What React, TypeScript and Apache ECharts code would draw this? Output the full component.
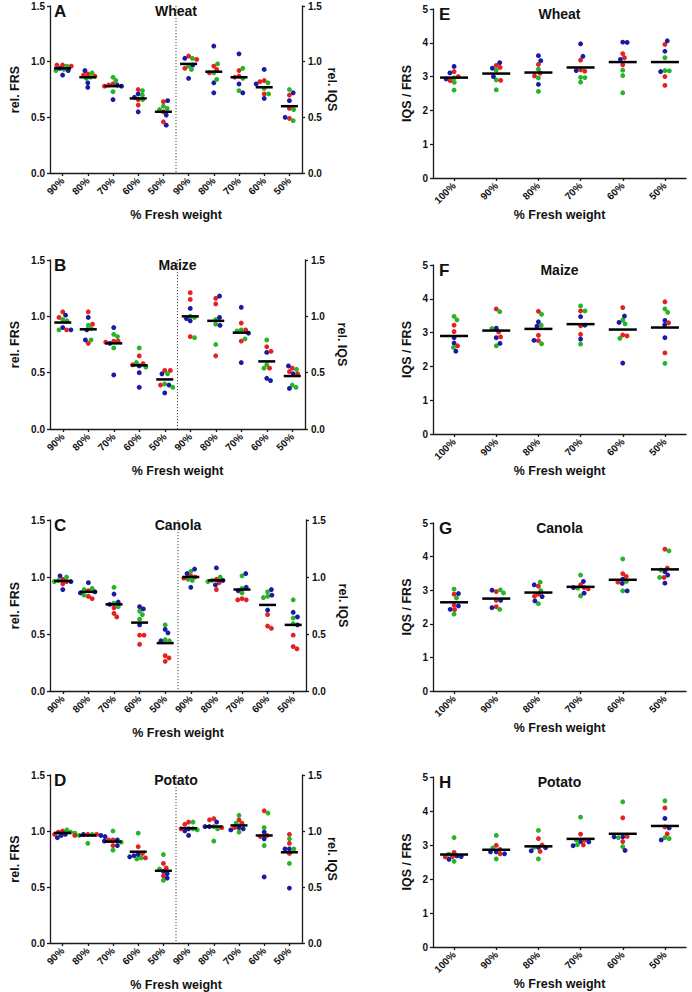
import React, { useEffect, useRef } from 'react';
import * as echarts from 'echarts';

// ---------- categories ----------
const relCategories = ['90%', '80%', '70%', '60%', '50%', '90%', '80%', '70%', '60%', '50%'];
const ratioCategories = ['100%', '90%', '80%', '70%', '60%', '50%'];

// ---------- Wheat (rel. FRS: first 5, rel. IQS: last 5) ----------
const wheatRelRed = [[0.97, 0.97, 0.96], [0.89, 0.88, 0.87], [0.80, 0.79, 0.78], [0.75, 0.66, 0.61], [0.64, 0.55, 0.46], [1.05, 1.02, 0.94], [0.96, 0.93, 0.90], [0.92, 0.87, 0.86], [0.83, 0.82, 0.71], [0.70, 0.58, 0.49]];
const wheatRelGreen = [[0.96, 0.93, 0.92], [0.90, 0.86, 0.85], [0.86, 0.83, 0.73], [0.74, 0.70, 0.66], [0.60, 0.58, 0.57], [1.03, 0.96, 0.93], [0.98, 0.90, 0.84], [0.94, 0.85, 0.74], [0.81, 0.76, 0.71], [0.75, 0.57, 0.47]];
const wheatRelBlue = [[0.94, 0.92, 0.88], [0.92, 0.81, 0.77], [0.79, 0.78, 0.66], [0.71, 0.68, 0.55], [0.65, 0.52, 0.43], [1.03, 0.97, 0.85], [1.14, 0.81, 0.72], [1.07, 0.80, 0.72], [0.93, 0.80, 0.67], [0.72, 0.65, 0.50]];
const wheatRelMean = [0.94, 0.86, 0.78, 0.67, 0.55, 0.98, 0.91, 0.86, 0.77, 0.60];

// ---------- Maize ----------
const maizeRelRed = [[1.04, 0.99, 0.88], [1.04, 0.93, 0.76], [0.78, 0.78, 0.77], [0.65, 0.58, 0.57], [0.52, 0.52, 0.39], [1.21, 1.15, 0.82], [1.16, 1.11, 0.65], [0.94, 0.88, 0.78], [0.73, 0.69, 0.54], [0.54, 0.51, 0.49]];
const maizeRelGreen = [[0.97, 0.96, 0.88], [0.92, 0.89, 0.79], [0.84, 0.82, 0.72], [0.72, 0.59, 0.55], [0.49, 0.40, 0.37], [1.00, 0.99, 0.81], [0.97, 0.93, 0.75], [0.88, 0.87, 0.80], [0.79, 0.57, 0.54], [0.53, 0.39, 0.37]];
const maizeRelBlue = [[1.01, 0.90, 0.88], [0.99, 0.88, 0.79], [0.90, 0.76, 0.48], [0.56, 0.50, 0.37], [0.49, 0.39, 0.32], [1.07, 0.98, 0.96], [1.18, 0.99, 0.92], [1.08, 0.85, 0.59], [0.68, 0.45, 0.43], [0.56, 0.49, 0.36]];
const maizeRelMean = [0.945, 0.885, 0.76, 0.565, 0.44, 1.0, 0.96, 0.855, 0.60, 0.47];

// ---------- Canola ----------
const canolaRelRed = [[0.98, 0.96, 0.94], [0.88, 0.83, 0.81], [0.73, 0.68, 0.65], [0.49, 0.49, 0.41], [0.31, 0.29, 0.26], [1.01, 1.00, 0.99], [0.98, 0.95, 0.89], [0.81, 0.80, 0.80], [0.67, 0.57, 0.55], [0.49, 0.39, 0.37]];
const canolaRelGreen = [[1.00, 0.97, 0.96], [0.90, 0.89, 0.84], [0.91, 0.77, 0.74], [0.70, 0.67, 0.63], [0.58, 0.45, 0.44], [1.05, 0.98, 0.97], [1.00, 0.97, 0.96], [1.01, 0.90, 0.86], [0.87, 0.83, 0.82], [0.80, 0.64, 0.59]];
const canolaRelBlue = [[1.01, 0.96, 0.89], [0.95, 0.87, 0.86], [0.85, 0.78, 0.76], [0.74, 0.72, 0.58], [0.54, 0.51, 0.44], [1.07, 1.03, 0.91], [1.08, 0.97, 0.93], [1.03, 0.91, 0.88], [0.89, 0.84, 0.71], [0.69, 0.65, 0.58]];
const canolaRelMean = [0.965, 0.87, 0.76, 0.60, 0.42, 1.0, 0.97, 0.89, 0.755, 0.58];

// ---------- Potato ----------
const potatoRelRed = [[1.00, 0.99, 0.97], [0.97, 0.97, 0.96], [0.92, 0.92, 0.87], [0.86, 0.80, 0.76], [0.71, 0.67, 0.60], [1.08, 1.06, 1.02], [1.11, 1.10, 1.03], [1.10, 1.07, 1.03], [1.18, 0.96, 0.95], [0.97, 0.89, 0.80]];
const potatoRelGreen = [[1.01, 0.99, 0.98], [0.97, 0.96, 0.89], [1.00, 0.90, 0.83], [0.98, 0.76, 0.75], [0.79, 0.66, 0.56], [1.08, 1.02, 1.01], [1.04, 1.02, 0.91], [1.14, 1.07, 0.99], [1.16, 1.03, 0.87], [0.93, 0.84, 0.71]];
const potatoRelBlue = [[0.97, 0.96, 0.94], [0.97, 0.96, 0.95], [0.92, 0.91, 0.87], [0.79, 0.78, 0.77], [0.64, 0.62, 0.58], [1.02, 1.00, 0.96], [1.08, 1.04, 1.04], [1.03, 1.02, 1.01], [0.99, 0.93, 0.59], [0.84, 0.84, 0.49]];
const potatoRelMean = [0.983, 0.96, 0.905, 0.815, 0.645, 1.025, 1.04, 1.05, 0.96, 0.81];

// ---------- IQS / FRS ratios ----------
const wheatRatioRed = [[3.15, 3.00, 2.88], [3.33, 3.27, 2.89], [3.36, 3.10, 3.02], [3.49, 3.20, 3.16], [3.68, 3.56, 3.35], [3.95, 3.00, 2.74]];
const wheatRatioGreen = [[2.96, 2.83, 2.60], [3.19, 2.90, 2.61], [3.22, 2.96, 2.56], [2.98, 2.97, 2.84], [3.19, 3.03, 2.52], [3.56, 3.18, 3.17]];
const wheatRatioBlue = [[3.30, 3.11, 2.93], [3.41, 3.25, 3.00], [3.62, 3.47, 2.77], [3.97, 3.60, 3.18], [4.02, 4.01, 3.51], [4.06, 3.75, 3.15]];
const wheatRatioMean = [2.97, 3.09, 3.12, 3.27, 3.43, 3.43];

const maizeRatioRed = [[3.22, 3.03, 2.61], [3.70, 3.02, 2.87], [3.63, 2.92, 2.76], [3.64, 3.20, 2.95], [3.74, 2.93, 2.90], [3.91, 3.29, 2.40]];
const maizeRatioGreen = [[3.48, 3.38, 2.56], [3.62, 3.12, 2.61], [3.54, 3.22, 2.67], [3.79, 3.64, 2.66], [3.37, 3.26, 2.83], [3.70, 3.60, 2.09]];
const maizeRatioBlue = [[2.85, 2.69, 2.45], [3.13, 2.85, 2.68], [3.32, 3.19, 2.77], [3.47, 3.22, 2.81], [3.49, 3.30, 2.10], [3.36, 3.23, 2.85]];
const maizeRatioMean = [2.90, 3.06, 3.11, 3.25, 3.09, 3.15];

const canolaRatioRed = [[2.88, 2.55, 2.42], [2.96, 2.70, 2.51], [3.12, 2.88, 2.82], [3.16, 3.08, 3.04], [3.49, 3.41, 3.24], [4.22, 3.66, 3.38]];
const canolaRatioGreen = [[3.03, 2.77, 2.29], [3.01, 2.92, 2.43], [3.24, 2.99, 2.60], [3.45, 3.06, 2.83], [3.93, 3.26, 2.98], [4.17, 3.60, 3.38]];
const canolaRatioBlue = [[2.90, 2.53, 2.43], [3.00, 2.70, 2.48], [3.16, 2.81, 2.68], [3.26, 3.08, 2.91], [3.33, 3.20, 2.98], [3.55, 3.45, 3.21]];
const canolaRatioMean = [2.64, 2.75, 2.93, 3.10, 3.31, 3.62];

const potatoRatioRed = [[2.78, 2.66, 2.65], [2.99, 2.87, 2.74], [3.19, 3.00, 2.81], [3.32, 3.14, 3.00], [3.80, 3.25, 3.10], [4.09, 3.53, 3.33]];
const potatoRatioGreen = [[3.22, 2.73, 2.52], [3.28, 2.91, 2.59], [3.43, 2.93, 2.59], [3.82, 3.14, 3.01], [4.27, 3.22, 2.95], [4.30, 3.22, 3.19]];
const potatoRatioBlue = [[2.68, 2.66, 2.58], [2.80, 2.80, 2.74], [2.93, 2.92, 2.83], [3.10, 3.09, 2.98], [3.24, 3.24, 2.84], [3.78, 3.50, 3.15]];
const potatoRatioMean = [2.72, 2.86, 2.96, 3.18, 3.33, 3.56];

// ---------- styling ----------
const FONT = '"Liberation Sans", Arial, Helvetica, sans-serif';
const DOT_COLORS = ['#e32222', '#27b427', '#1a1aa6'];
const AXIS_COLOR = '#1a1a1a';
const TEXT_COLOR = '#111';
const DOT_R = 2.45;

type Panel = {
  kind: 'rel' | 'ratio';
  letter: string;
  title: string;
  groups: number[][][];
  mean: number[];
  left: number;
  top: number;
  width: number;
  height: number;
  rightGap?: number;
};

const panels: Panel[] = [
  { kind: 'rel', letter: 'A', title: 'Wheat', groups: [wheatRelRed, wheatRelGreen, wheatRelBlue], mean: wheatRelMean, left: 50, top: 6, width: 252, height: 167, rightGap: 23 },
  { kind: 'rel', letter: 'B', title: 'Maize', groups: [maizeRelRed, maizeRelGreen, maizeRelBlue], mean: maizeRelMean, left: 50, top: 260, width: 255, height: 169, rightGap: 30 },
  { kind: 'rel', letter: 'C', title: 'Canola', groups: [canolaRelRed, canolaRelGreen, canolaRelBlue], mean: canolaRelMean, left: 50, top: 520, width: 256, height: 171, rightGap: 30 },
  { kind: 'rel', letter: 'D', title: 'Potato', groups: [potatoRelRed, potatoRelGreen, potatoRelBlue], mean: potatoRelMean, left: 50, top: 775, width: 252, height: 168, rightGap: 23 },
  { kind: 'ratio', letter: 'E', title: 'Wheat', groups: [wheatRatioRed, wheatRatioGreen, wheatRatioBlue], mean: wheatRatioMean, left: 433, top: 9, width: 253, height: 169 },
  { kind: 'ratio', letter: 'F', title: 'Maize', groups: [maizeRatioRed, maizeRatioGreen, maizeRatioBlue], mean: maizeRatioMean, left: 433, top: 265, width: 253, height: 169 },
  { kind: 'ratio', letter: 'G', title: 'Canola', groups: [canolaRatioRed, canolaRatioGreen, canolaRatioBlue], mean: canolaRatioMean, left: 433, top: 523, width: 253, height: 168 },
  { kind: 'ratio', letter: 'H', title: 'Potato', groups: [potatoRatioRed, potatoRatioGreen, potatoRatioBlue], mean: potatoRatioMean, left: 433, top: 777, width: 253, height: 170 },
];

// beeswarm: horizontal pixel offsets so that dots with close values do not pile up
function swarmOffsets(values: number[], pxPerUnit: number, d: number): number[] {
  const placed: { x: number; y: number }[] = [];
  return values.map((v) => {
    const y = v * pxPerUnit;
    const cands = [0];
    for (const q of placed) {
      const dy = Math.abs(q.y - y);
      if (dy < d) {
        const dx = Math.sqrt(d * d - dy * dy);
        cands.push(q.x + dx, q.x - dx);
      }
    }
    cands.sort((a, b) => Math.abs(a) - Math.abs(b) || b - a);
    let best = 0;
    for (const x of cands) {
      if (placed.every((q) => (q.x - x) ** 2 + (q.y - y) ** 2 >= d * d - 0.01)) {
        best = x;
        break;
      }
    }
    placed.push({ x: best, y });
    return best;
  });
}

function buildDotRows(p: Panel, yMax: number): number[][] {
  const rows: number[][] = [];
  const nCat = p.mean.length;
  const ppu = p.height / yMax;
  for (let cat = 0; cat < nCat; cat++) {
    const pts: { v: number; c: number }[] = [];
    for (let k = 0; k < 3; k++) {
      for (let c = 0; c < 3; c++) {
        const v = p.groups[c][cat][k];
        if (v !== undefined) pts.push({ v, c });
      }
    }
    const offs = swarmOffsets(pts.map((q) => q.v), ppu, DOT_R * 2 - 0.5);
    pts.forEach((q, i) => rows.push([cat, q.v, offs[i], q.c]));
  }
  return rows;
}

function buildOption() {
  const grid: any[] = [];
  const xAxis: any[] = [];
  const yAxis: any[] = [];
  const series: any[] = [];
  const graphic: any[] = [];

  const tickLabel = { fontSize: 10, fontWeight: 'bold', fontFamily: FONT, color: TEXT_COLOR };
  const nameStyle = { fontSize: 12.5, fontWeight: 'bold', fontFamily: FONT, color: TEXT_COLOR };
  const axisLine = { show: true, lineStyle: { color: AXIS_COLOR, width: 1.3 } };
  const axisTick = { show: true, length: 3, inside: false, lineStyle: { color: AXIS_COLOR, width: 1.3 } };

  panels.forEach((p, i) => {
    const isRel = p.kind === 'rel';
    const yMax = isRel ? 1.5 : 5;
    grid.push({ left: p.left, top: p.top, width: p.width, height: p.height, containLabel: false });
    xAxis.push({
      type: 'category',
      gridIndex: i,
      data: isRel ? relCategories : ratioCategories,
      boundaryGap: true,
      axisLine,
      axisTick: { ...axisTick, alignWithLabel: true, interval: 0 },
      axisLabel: { ...tickLabel, rotate: 45, margin: 6, interval: 0 },
      splitLine: { show: false },
      name: '% Fresh weight',
      nameLocation: 'middle',
      nameGap: isRel ? 35 : 28,
      nameTextStyle: nameStyle,
    });
    const yIdx = yAxis.length;
    yAxis.push({
      type: 'value',
      gridIndex: i,
      position: 'left',
      min: 0,
      max: yMax,
      interval: isRel ? 0.5 : 1,
      axisLine,
      axisTick,
      splitLine: { show: false },
      axisLabel: { ...tickLabel, margin: 5, formatter: (v: number) => (isRel ? v.toFixed(1) : String(v)) },
      name: isRel ? 'rel. FRS' : 'IQS / FRS',
      nameLocation: 'middle',
      nameRotate: 90,
      nameGap: isRel ? 29 : 20,
      nameTextStyle: nameStyle,
    });
    if (isRel) {
      yAxis.push({
        type: 'value',
        gridIndex: i,
        position: 'right',
        min: 0,
        max: yMax,
        interval: 0.5,
        axisLine,
        axisTick,
        splitLine: { show: false },
        axisLabel: { ...tickLabel, margin: 6, formatter: (v: number) => v.toFixed(1) },
        name: 'rel. IQS',
        nameLocation: 'middle',
        nameRotate: -90,
        nameGap: p.rightGap,
        nameTextStyle: nameStyle,
      });
    }

    // dots
    series.push({
      type: 'custom',
      xAxisIndex: i,
      yAxisIndex: yIdx,
      silent: true,
      z: 2,
      data: buildDotRows(p, yMax),
      renderItem: (_params: any, api: any) => {
        const pt = api.coord([api.value(0), api.value(1)]);
        return {
          type: 'circle',
          shape: { cx: pt[0] + api.value(2), cy: pt[1], r: DOT_R },
          style: { fill: DOT_COLORS[api.value(3)] },
        };
      },
    });

    // mean bars
    series.push({
      type: 'scatter',
      xAxisIndex: i,
      yAxisIndex: yIdx,
      silent: true,
      z: 3,
      symbol: 'rect',
      symbolSize: isRel ? [17, 2.5] : [28, 2.5],
      itemStyle: { color: '#000', opacity: 1 },
      data: p.mean.map((m, j) => [j, m]),
    });

    // dotted separator between FRS and IQS groups
    if (isRel) {
      series.push({
        type: 'custom',
        xAxisIndex: i,
        yAxisIndex: yIdx,
        silent: true,
        z: 1,
        data: [[4, 0]],
        renderItem: (_params: any, api: any) => {
          const a = api.coord([4, 0]);
          const b = api.coord([5, 0]);
          const t = api.coord([4, yMax]);
          const x = (a[0] + b[0]) / 2;
          return {
            type: 'line',
            shape: { x1: x, y1: t[1], x2: x, y2: a[1] },
            style: { stroke: '#444', lineWidth: 1, lineDash: [1.2, 1.8] },
          };
        },
      });
    }

    graphic.push({
      type: 'text',
      x: p.left + (isRel ? 4 : 6),
      y: p.top + 5,
      silent: true,
      style: {
        text: p.letter,
        font: `bold 17px ${FONT}`,
        fill: TEXT_COLOR,
        align: 'left',
        verticalAlign: 'middle',
      },
    });
    graphic.push({
      type: 'text',
      x: p.left + p.width / 2,
      y: p.top + 5,
      silent: true,
      style: {
        text: p.title,
        font: `bold 14px ${FONT}`,
        fill: TEXT_COLOR,
        align: 'center',
        verticalAlign: 'middle',
      },
    });
  });

  return {
    animation: false,
    backgroundColor: '#ffffff',
    textStyle: { fontFamily: FONT },
    grid,
    xAxis,
    yAxis,
    series,
    graphic,
  };
}

export default function App() {
  const ref = useRef<HTMLDivElement>(null);
  useEffect(() => {
    if (!ref.current) return;
    const chart = echarts.init(ref.current, undefined, { renderer: 'svg' });
    chart.setOption(buildOption() as any);
    return () => chart.dispose();
  }, []);
  return (
    <div
      ref={ref}
      style={{ position: 'absolute', left: 0, top: 0, width: 692, height: 992, background: '#fff' }}
    />
  );
}
